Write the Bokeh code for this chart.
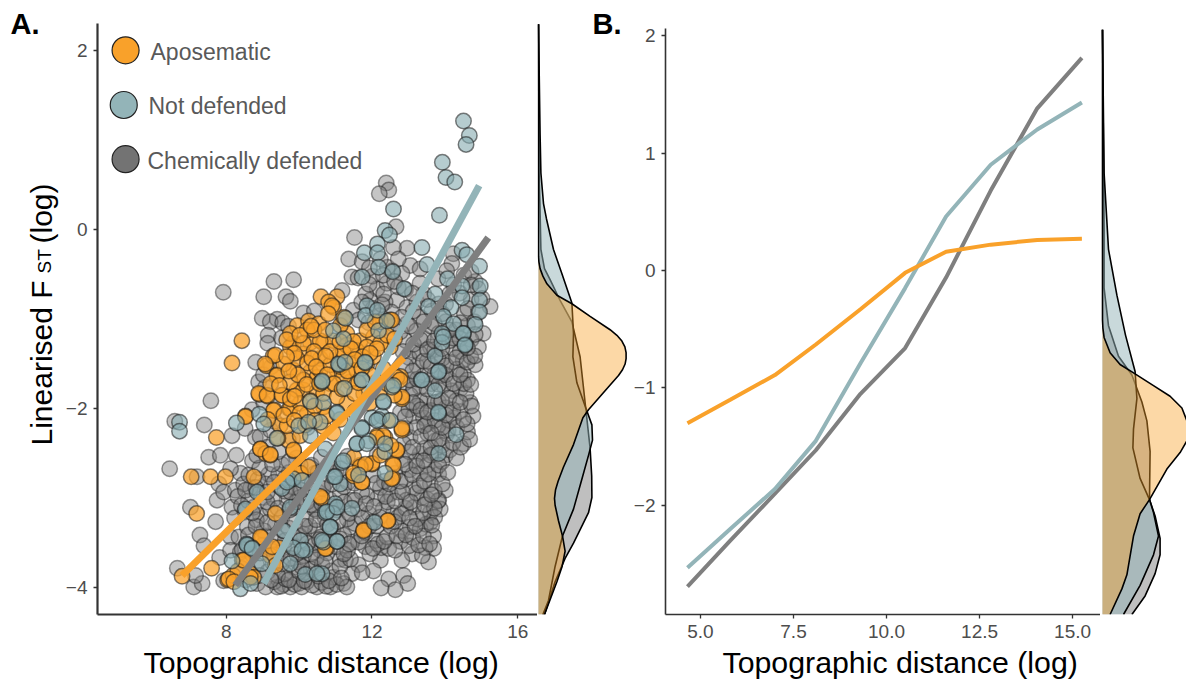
from bokeh.plotting import figure
from bokeh.layouts import row, column
from bokeh.models import FixedTicker, Label, Range1d
from bokeh.embed import file_html
from bokeh.resources import INLINE

ORANGE = "#F9A12A"; TEAL = "#93B4B8"; GRAY = "#7F7F7F"
TEAL_POINT = "#85AAAF"
FONT = "Liberation Sans"

series_names = ["Aposematic", "Not defended", "Chemically defended"]

# ---------- panel A: points (log distance, linearised FST)
gray_pts = [
(7.92,-.70),(9.31,-.58),(9.85,-.56),(9.03,-.75),(9.64,-.75),(9.76,-.80),(8.99,-.99),(9.40,-1.0),(9.21,-1.03),(9.55,-1.04),
(9.15,-1.18),(9.14,-1.27),(8.81,-1.48),(8.89,-1.70),(9.08,-1.76),(7.58,-1.91),(6.59,-2.14),(7.40,-2.18),(8.16,-2.30),(8.80,-2.32),
(12.39,.52),(12.46,.44),(12.2,.40),(12.66,.03),(11.52,-.09),(11.36,-.33),(12.96,-.21),(12.59,-.20),(11.45,-.53),(11.73,-.36),
(11.62,-.54),(13.05,-.40),(13.32,-.44),(13.81,-.55),(13.32,-.60),(15.24,-.86),(15.05,-1.16),(14.23,-.27),(14.19,-.38),(14.05,-.46),
(11.18,-.68),(12.55,-.46),(12.14,-.66),(12.41,-.60),(12.68,-.79),(12.96,-.87),(11.95,-.79),(12.36,-.81),(12.32,-.72),(13.23,-.81),
(13.32,-.98),(12.96,-1.05),(11.49,-.90),(12.72,-.64),(14.83,-1.51),(14.51,-1.61),(14.42,-1.78),(14.69,-1.93),(14.77,-2.08),(14.51,-2.39),
(14.24,-2.10),(13.51,-1.91),(13.23,-1.52),(13.32,-1.76),(13.05,-1.85),(12.78,-2.04),(13.32,-1.91),(13.14,-2.08),(13.41,-2.10),(13.05,-2.32),
(13.73,-2.36),(14.05,-2.28),(14.09,-2.24),(14.19,-1.80),(14.19,-1.48),(13.6,-1.31),(13.13,-1.35),(14.23,-1.33),(13.96,-1.74),(14.5,-1.46),
(13.51,-2.17),(13.69,-2.50),(14.01,-2.52),(13.32,-2.50),(12.86,-2.39),(13.19,-2.58),(13.83,-2.73),(14.01,-2.91),(13.83,-3.02),(13.60,-3.27),
(13.69,-3.42),(13.69,-3.56),(13.55,-3.71),(13.14,-3.10),(12.50,-2.95),(11.91,-3.17),(12.14,-3.0),(12.78,-3.48),(12.23,-3.69),(12.25,-3.55),
(13.05,-3.32),(13.1,-3.62),(12.82,-3.69),(12.46,-3.9),(12.87,-3.86),(12.98,-3.95),(12.64,-4.02),(12.25,-4.0),(12.04,-3.81),(11.63,-3.74),
(11.45,-3.84),(11.22,-3.95),(10.86,-3.99),(11.82,-3.54),(11.45,-3.49),(11.41,-3.32),(11.86,-2.97),(13.37,-2.99),(13.6,-2.84),(13.14,-2.89),
(12.59,-3.16),(13.46,-3.55),(13.32,-3.34),(13.6,-3.16),(13.87,-3.12),(12.46,-3.56),(11.13,-3.68),(10.94,-3.88),(11.27,-3.69),(12.09,-3.47),
(6.45,-2.67),(7.52,-2.54),(8.28,-2.52),(7.84,-2.52),(7.2,-2.76),(7.02,-3.10),(7.71,-3.26),(7.28,-3.41),(7.39,-3.53),(6.66,-3.78),
(7.11,-3.99),(7.34,-3.95),(7.16,-3.86),(7.82,-3.66),(7.93,-3.92),(8.39,-2.72),(8.12,-2.67),(7.8,-2.84),(7.75,-3.02),(8.16,-3.10),
(7.93,-2.93),(8.25,-2.91),(8.12,-3.43),(8.35,-3.43),(8.58,-3.32),(8.94,-3.19),(9.03,-2.99),(9.17,-2.73),(8.67,-2.88),(8.48,-2.84),
(9.08,-3.42),(9.35,-3.29),(9.67,-3.02),(9.44,-2.73),(9.85,-2.88),(10.04,-3.10),(10.31,-2.91),(10.49,-3.14),(10.13,-3.40),(10.45,-3.36),
(9.58,-3.96),(9.40,-3.99),(9.76,-3.99),(9.99,-3.95),(10.49,-3.99),(8.67,-3.84),(8.12,-3.58),(8.39,-3.60),(8.85,-3.95),(9.08,-3.99),
(10.22,-3.84),(10.4,-3.77),(9.85,-3.77),(10.58,-3.58),(10.31,-3.62),(9.85,-3.43),(9.58,-3.55),(8.76,-3.10),(9.08,-2.84),
(9.32,-3.93),(9.51,-3.98),(9.63,-3.90),(9.88,-3.96),(10.07,-3.99),(10.21,-3.93),(10.36,-3.97),(10.62,-3.94),(10.74,-3.98),(11.03,-3.96),(11.31,-3.99),
(8.42,-3.78),(8.83,-3.74),(9.14,-3.82),(9.28,-3.72),(9.61,-3.84),(9.97,-3.71),(10.33,-3.79),(10.63,-3.74),(10.88,-3.81),(11.12,-3.76),(11.41,-3.68),(11.73,-3.83),
(8.44,-3.57),(8.72,-3.63),(9.01,-3.52),(9.49,-3.61),(9.83,-3.53),(10.12,-3.64),(10.43,-3.52),(10.77,-3.61),(11.02,-3.54),(11.33,-3.58),(11.63,-3.49),(11.94,-3.62),(12.16,-3.51),(12.63,-3.58),(13.02,-3.53),(13.38,-3.64),
(8.61,-3.41),(9.03,-3.36),(9.42,-3.44),(9.71,-3.33),(10.02,-3.42),(10.29,-3.31),(10.61,-3.43),(10.93,-3.34),(11.22,-3.41),(11.53,-3.28),(11.81,-3.38),(12.13,-3.31),(12.41,-3.43),(12.83,-3.36),(13.12,-3.44),(13.48,-3.29),(13.72,-3.21),
(8.23,-3.22),(8.51,-3.14),(8.83,-3.24),(9.21,-3.12),(9.53,-3.21),(9.82,-3.11),(10.18,-3.23),(10.42,-3.12),(10.71,-3.21),(11.04,-3.13),(11.32,-3.23),(11.62,-3.12),(12.02,-3.26),(12.31,-3.12),(12.71,-3.21),(12.92,-3.11),(13.24,-3.23),(13.81,-3.03),
(8.32,-2.98),(8.61,-3.03),(8.92,-2.94),(9.31,-3.01),(9.61,-2.92),(10.02,-2.99),(10.22,-3.04),(10.53,-2.93),(10.83,-3.01),(11.13,-2.94),(11.44,-3.02),(11.72,-2.93),(12.23,-2.88),(12.42,-3.04),(12.71,-2.93),(12.94,-3.02),(13.22,-2.94),(13.52,-3.01),(13.71,-2.92),
(8.62,-2.74),(8.87,-2.79),(9.32,-2.82),(9.73,-2.71),(10.13,-2.81),(10.44,-2.72),(10.72,-2.83),(11.02,-2.71),(11.34,-2.82),(12.03,-2.74),(12.34,-2.81),(12.63,-2.72),(12.92,-2.79),(13.03,-2.68),(13.32,-2.72),(13.51,-2.63),(13.73,-2.68),(13.92,-2.59),
(8.72,-2.58),(9.52,-2.62),(9.93,-2.55),(10.34,-2.63),(10.61,-2.54),(10.92,-2.62),(11.33,-2.53),(12.14,-2.51),(12.83,-2.57),(13.02,-2.48),(13.44,-2.44),(13.61,-2.52),(13.92,-2.41),(14.13,-2.46),(14.32,-2.55),
(8.52,-2.22),(8.93,-2.31),(9.22,-2.24),(9.82,-2.33),(10.23,-2.21),(12.92,-2.22),(13.22,-2.21),(13.53,-2.28),(13.81,-2.19),(14.12,-2.13),(14.33,-2.21),(14.62,-2.26),(14.42,-2.03),
(8.71,-2.01),(9.03,-1.93),(9.33,-2.14),(13.01,-2.01),(13.23,-1.97),(13.62,-2.02),(13.82,-1.92),(14.03,-1.99),(14.31,-1.91),(14.58,-1.83),
(9.02,-1.62),(9.24,-1.53),(9.52,-1.21),(9.71,-1.08),(12.91,-1.71),(13.14,-1.78),(13.42,-1.63),(13.63,-1.72),(13.91,-1.63),(14.12,-1.67),(14.33,-1.56),(14.62,-1.68),(14.71,-1.42),
(10.12,-.93),(10.42,-.91),(11.21,-1.02),(13.02,-1.43),(13.31,-1.38),(13.52,-1.47),(13.72,-1.34),(13.93,-1.44),(14.13,-1.24),(14.42,-1.36),(14.72,-1.23),(14.92,-1.31),(14.62,-1.07),
(12.93,-1.24),(13.22,-1.13),(13.41,-1.21),(13.62,-1.08),(13.83,-1.16),(14.02,-1.03),(14.31,-1.12),(14.53,-.93),(14.81,-1.03),(14.72,-.78),(14.41,-.71),
(14.02,-.83),(13.64,-.91),(13.42,-.72),(12.53,-.92),(12.22,-.96),(12.78,-1.14),(14.24,-.62),(14.83,-.58),(12.01,-.52),(11.83,-.72),
]

gray_pts_dense = [
(9.41,-3.86),(9.72,-3.91),(10.01,-3.82),(10.14,-3.92),(10.53,-3.87),(10.82,-3.92),(11.16,-3.89),(9.23,-3.91),(8.92,-3.86),(8.53,-3.91),(9.52,-3.73),(9.77,-3.67),(10.07,-3.76),(10.47,-3.66),(10.71,-3.7),(11.23,-3.62),(8.93,-3.61),(8.61,-3.52),(9.18,-3.55),(9.32,-3.63),
(9.62,-3.47),(9.93,-3.62),(10.23,-3.5),(10.56,-3.46),(10.84,-3.48),(11.12,-3.45),(11.37,-3.51),(11.72,-3.42),(12.03,-3.56),(12.33,-3.48),(12.52,-3.31),(12.68,-3.42),(12.93,-3.41),(13.28,-3.52),(13.41,-3.42),(13.58,-3.51),(13.64,-3.3),
(8.82,-3.31),(9.13,-3.27),(9.56,-3.36),(9.88,-3.27),(10.16,-3.31),(10.47,-3.24),(10.78,-3.29),(11.07,-3.26),(11.38,-3.17),(11.73,-3.22),(11.93,-3.31),(12.22,-3.21),(12.61,-3.26),(12.81,-3.17),(13.03,-3.22),(13.18,-3.31),(13.41,-3.16),(13.71,-3.11),
(8.42,-3.08),(8.72,-3.16),(9.12,-3.04),(9.42,-3.11),(9.74,-3.13),(9.93,-3.04),(10.33,-3.07),(10.62,-3.06),(10.93,-3.09),(11.24,-3.04),(11.53,-3.02),(11.83,-3.06),(12.06,-3.09),(12.37,-2.98),(12.63,-3.03),(12.84,-2.93),(13.06,-3.04),(13.31,-2.86),(13.44,-3.07),(13.63,-2.96),(13.93,-2.84),
(8.53,-2.91),(8.81,-2.88),(9.13,-2.93),(9.47,-2.87),(9.76,-2.93),(10.06,-2.91),(10.36,-2.83),(10.66,-2.89),(10.91,-2.84),(11.23,-2.87),(11.52,-2.83),(12.12,-2.83),(12.48,-2.84),(12.77,-2.81),(13.11,-2.74),(13.43,-2.81),(13.54,-2.73),(13.83,-2.63),(14.08,-2.71),
(8.92,-2.66),(9.27,-2.62),(9.62,-2.77),(10.03,-2.63),(10.52,-2.71),(10.82,-2.64),(11.14,-2.67),(12.91,-2.62),(13.23,-2.64),(13.42,-2.58),(13.62,-2.43),(13.84,-2.34),(14.22,-2.38),(14.43,-2.43),(14.61,-2.17),(14.68,-2.34),
(8.84,-2.52),(9.13,-2.43),(9.43,-2.48),(9.72,-2.59),(13.12,-2.43),(13.34,-2.31),(13.44,-2.19),(13.73,-2.13),(13.93,-2.21),(13.62,-2.27),(14.03,-2.07),(14.22,-2.01),(14.51,-2.12),(14.73,-1.97),
(12.91,-2.09),(13.12,-1.93),(13.34,-2.01),(13.52,-2.04),(13.72,-1.93),(13.91,-1.91),(14.11,-1.88),(14.42,-1.93),(14.52,-1.72),(14.71,-1.73),(13.03,-1.68),(13.24,-1.67),(13.51,-1.78),(13.72,-1.62),(13.83,-1.73),(14.02,-1.62),(14.24,-1.72),(14.42,-1.62),
(12.93,-1.52),(13.12,-1.58),(13.41,-1.47),(13.62,-1.52),(13.81,-1.43),(14.03,-1.52),(14.31,-1.43),(14.61,-1.48),(14.82,-1.41),(12.85,-1.36),(13.14,-1.28),(13.33,-1.23),(13.52,-1.34),(13.71,-1.24),(13.92,-1.33),(14.22,-1.21),(14.41,-1.22),(14.62,-1.32),(14.83,-1.17),
(13.05,-1.08),(13.42,-1.03),(13.71,-1.05),(13.93,-.94),(14.12,-1.12),(14.42,-1.04),(14.63,-.88),(14.92,-.92),(13.13,-.91),(13.52,-.78),(13.83,-.83),(14.13,-.72),(14.52,-.51),(14.72,-.47),(14.91,-.66),(15.02,-.77),
(12.42,-.42),(12.23,-.33),(12.72,-.33),(12.82,-.49),(12.92,-.67),(13.11,-.71),(11.93,-.43),(11.92,-.61),(12.31,-.51),(12.62,-.58),(12.27,-.84),(12.03,-.88),(11.72,-.81),(11.63,-1.01),(11.91,-1.04),(12.23,-1.12),(12.82,-.98),(12.63,-1.07),(14.72,-.62),
]

orange_pts = [
(8.43,-1.24),(8.16,-1.49),(7.73,-2.32),(8.91,-1.84),(9.10,-1.52),(9.29,-1.41),(9.40,-1.62),(9.14,-1.86),(9.55,-1.85),(9.32,-2.01),
(9.73,-2.0),(8.53,-2.08),(9.95,-1.07),(10.26,-1.02),(10.54,-1.05),(10.6,-.75),(11.04,-.75),(10.81,-.81),(10.95,-.87),(10.9,-.85),
(10.8,-.94),(12.5,-1.01),(12.23,-1.03),(12.82,-2.24),(12.82,-1.89),(12.78,-1.64),(12.68,-2.47),(12.36,-2.32),(12.14,-2.30),(12.0,-2.62),
(12.57,-2.61),(11.68,-2.63),(11.5,-2.54),(11.77,-3.35),(12.44,-3.25),(10.75,-3.56),(11.73,-2.82),(11.5,-2.75),(12.57,-2.77),(10.63,-3.0),
(7.04,-2.76),(7.57,-2.76),(7.98,-2.76),(8.76,-2.76),(7.19,-3.17),(6.79,-3.87),(7.6,-3.78),(8.04,-3.91),(8.19,-3.86),(8.44,-3.69),
(8.32,-3.81),(8.94,-2.45),(9.08,-2.50),(9.21,-2.52),(9.35,-3.17),(8.97,-3.44),(9.21,-3.64),(8.67,-3.84),(8.75,-3.88),(9.44,-3.55),
(9.35,-3.75),(9.85,-2.47),(10.04,-2.72),(9.70,-2.35),
(9.85,-1.27),(10.31,-1.26),(9.76,-1.31),(10.12,-1.39),(10.67,-1.27),(10.94,-1.24),(11.31,-1.16),(11.68,-1.24),(12.04,-1.2),(12.54,-1.01),
(9.85,-1.57),(10.31,-1.59),(10.58,-1.44),(11.04,-1.42),(11.4,-1.46),(11.86,-1.5),(12.5,-1.31),(12.68,-1.65),(12.77,-1.68),(12.82,-1.87),
(9.94,-1.44),(9.58,-1.5),(9.35,-1.40),(9.07,-1.5),(9.39,-1.63),(8.89,-1.83),(9.12,-1.85),(9.53,-1.85),(10.12,-1.79),(10.49,-1.81),
(9.94,-1.79),(9.76,-2.0),(9.3,-2.02),(10.03,-1.94),(10.67,-1.98),(11.31,-1.94),(9.48,-2.19),(9.67,-2.19),(10.03,-2.3),(9.85,-2.46),
(8.94,-2.45),(9.21,-2.51),(8.53,-2.09),(11.4,-1.7),(11.77,-1.83),(10.85,-1.72),(10.49,-1.65),(10.12,-1.68),(9.76,-1.7),(11.04,-1.57),
(11.58,-1.35),(12.04,-1.42),(11.31,-1.29),(10.58,-1.24),(10.22,-1.12),(9.76,-1.16),(12.82,-2.22),(12.31,-2.3),(12.13,-2.32),(12.68,-2.46),
(12.59,-2.63),(12.54,-2.78),(12.0,-2.61),(11.68,-2.65),(11.49,-2.72),(11.72,-2.82),(10.58,-2.98),(8.94,-3.43),(9.26,-3.54),(8.48,-3.69),
(8.07,-3.9),(8.21,-3.93),(8.66,-3.88),(10.72,-3.56),(11.77,-3.36),(12.43,-3.25),(10.03,-2.72),(10.26,-2.65),(10.67,-2.2),
(10.12,-1.27),(10.41,-1.36),(9.87,-1.38),(10.23,-1.49),(10.58,-1.57),(10.86,-1.51),(11.21,-1.36),(11.49,-1.25),(11.86,-1.31),(12.23,-1.27),
(11.22,-1.64),(10.67,-1.83),(10.31,-1.91),(11.04,-1.87),(9.76,-1.89),(10.22,-2.06),(10.85,-1.36),(10.41,-1.12),(11.13,-1.07),(11.86,-1.12),
(12.31,-1.55),(12.13,-1.7),(11.95,-1.62),(11.58,-1.57),(10.76,-2.08),(11.13,-2.12),(10.94,-2.27),
(9.66,-1.23),(10.02,-1.18),(10.35,-1.44),(10.73,-1.41),(11.12,-1.25),(11.42,-1.33),(11.74,-1.42),(12.13,-1.33),(12.42,-1.18),(12.62,-1.22),
(9.66,-1.42),(9.97,-1.62),(10.21,-1.73),(10.47,-1.53),(10.77,-1.62),(11.13,-1.53),(11.33,-1.58),(11.53,-1.45),(11.72,-1.55),(11.95,-1.38),
(9.22,-1.72),(9.46,-1.74),(9.72,-1.58),(9.88,-1.86),(10.03,-2.05),(10.42,-1.97),(10.56,-1.72),(10.96,-1.72),(11.18,-1.78),(11.52,-1.83),(11.63,-1.71),(12.22,-1.82),(12.42,-1.72),(12.61,-1.85),
(9.14,-2.12),(9.42,-2.33),(9.58,-2.07),(9.87,-2.13),(10.17,-2.18),(10.43,-2.13),(11.53,-2.03),(11.93,-1.94),(12.52,-2.41),(12.23,-2.52),(12.44,-2.13),(11.82,-2.62),(10.33,-1.08),(10.72,-1.12),(11.23,-.98),(12.08,-1.03),
]

teal_pts = [
(14.51,1.21),(14.67,1.05),(14.58,.95),(13.93,.75),(14.03,.58),(14.27,.53),(12.59,.23),(13.85,.16),(12.36,-.01),(12.48,-.06),
(12.15,-.16),(11.79,-.26),(12.15,-.26),(12.18,-.42),(13.37,-.20),(13.51,-.39),(12.57,-.47),(11.73,-.53),(12.88,-.66),(14.47,-.23),
(14.6,-.28),(14.95,-.41),(14.07,-.55),(14.47,-.63),(14.97,-.63),(13.73,-.72),(14.95,-.79),(14.47,-.76),(11.86,-.85),(11.82,-.96),
(12.15,-.90),(14.17,-.87),(13.55,-.86),(13.96,-.97),(14.95,-.92),(14.83,-1.06),(14.24,-1.05),(13.92,-1.16),(14.51,-1.16),(10.94,-1.13),
(11.27,-.99),(11.22,-1.22),(12.18,-1.13),(12.41,-1.02),(11.10,-1.51),(11.82,-1.49),(11.73,-1.68),(11.24,-1.77),(10.63,-1.70),(12.55,-1.76),
(12.32,-1.93),(12.0,-2.10),(12.27,-2.08),(12.18,-2.12),(11.73,-2.21),(11.59,-2.39),(11.91,-2.36),(11.04,-2.04),(10.67,-1.93),(10.72,-2.45),
(11.18,-2.60),(12.35,-2.48),(13.35,-1.68),(13.73,-1.80),(13.84,-1.58),(13.73,-1.41),(13.92,-1.26),(14.56,-1.28),(13.83,-2.05),(14.31,-2.29),
(13.83,-2.5),(12.07,-3.27),(11.04,-3.48),(11.45,-3.11),(10.99,-3.06),(10.72,-3.16),(10.93,-3.17),(10.86,-3.32),(10.67,-3.49),(10.63,-3.84),
(11.13,-2.84),(10.95,-2.76),(12.36,-2.72),(6.72,-2.15),(6.72,-2.25),(8.28,-2.16),(8.91,-2.06),(9.03,-2.17),(8.85,-2.93),(8.53,-3.12),
(9.72,-2.80),(9.53,-2.89),(8.16,-3.70),(8.56,-3.51),(8.71,-3.55),(8.39,-4.01),(8.67,-3.95),(10.17,-3.85),(10.49,-3.84),(10.04,-3.47),
(10.17,-3.58),(9.84,-3.55),(9.84,-2.78),(11.08,-1.5),(11.26,-1.48),(10.63,-1.69),(11.72,-1.68),(11.81,-1.48),(10.31,-1.92),(10.58,-2.15),
(11.04,-2.05),(9.39,-2.33),(9.99,-2.19),(10.26,-2.15),(10.31,-2.3),(11.22,-2.58),(10.99,-2.76),(9.67,-2.82),(10.08,-2.8),(9.76,-3.1),
(10.76,-3.15),(11.04,-3.1),(10.85,-3.32),(10.63,-3.47),(11.04,-3.48),(12.36,-2.39),(11.63,-2.74),(11.58,-2.39),(11.86,-2.39),(11.72,-2.22),
(12.31,-1.92),(12.13,-2.13),(12.5,-2.13),(12.59,-1.74),(13.37,-1.68),(13.82,-1.59),(13.82,-2.04),(13.96,-1.2),(14.5,-1.16),(14.55,-1.29),
(8.57,-3.52),(8.71,-3.56),(10.08,-3.58),(9.76,-3.73),(8.98,-3.73),(9.58,-3.36),
]

# fitted lines of panel A: x, y at the two ends
fit_a_orange_x = [6.79, 12.87]; fit_a_orange_y = [-3.86, -1.43]
fit_a_teal_x = [9.03, 14.94];   fit_a_teal_y = [-3.95, 0.49]
fit_a_gray_x = [8.25, 15.19];   fit_a_gray_y = [-3.97, -0.09]

# ---------- panel A marginal densities
dens_a_orange_y = [2.29,-.30,-.36,-.436,-.52,-.606,-.734,-.828,-.969,-1.118,-1.18,-1.245,-1.31,-1.373,-1.44,-1.501,-1.565,-1.629,-1.799,-2.012,-2.1,-2.4,-2.65,-2.81,-2.907,-3.0,-3.077,-3.25,-3.42,-3.59,-3.76,-3.93,-4.296]
dens_a_orange_d = [0,0,.002,.008,.022,.042,.092,.167,.258,.358,.392,.417,.432,.438,.438,.433,.42,.40,.333,.25,.222,.175,.125,.098,.085,.08,.083,.10,.12,.133,.118,.092,.03]
dens_a_teal_y = [2.29,1.055,.63,.29,.118,-.223,-.5,-.82,-1.16,-1.42,-1.71,-1.97,-2.18,-2.35,-2.52,-2.8,-3.12,-3.42,-3.76,-4.14,-4.296]
dens_a_teal_d = [0,.008,.012,.025,.04,.075,.118,.167,.175,.172,.192,.233,.267,.27,.25,.215,.175,.12,.083,.05,.022]
dens_a_gray_y = [2.29,.63,.29,-.223,-.436,-.56,-.8,-1.03,-1.42,-1.93,-2.44,-2.75,-2.99,-3.16,-3.5,-3.67,-3.93,-4.296]
dens_a_gray_d = [0,.003,.007,.012,.03,.058,.11,.167,.208,.233,.258,.266,.267,.25,.175,.133,.083,.03]

# ---------- panel B lines
line_x = [4.65, 5.8, 7.0, 8.1, 9.3, 10.5, 11.6, 12.8, 14.05, 15.25]
line_b_orange = [-1.30, -1.10, -.89, -.63, -.33, -.02, .16, .22, .26, .27]
line_b_teal = [-2.53, -2.20, -1.86, -1.45, -.79, -.15, .46, .90, 1.20, 1.43]
line_b_gray = [-2.69, -2.30, -1.90, -1.53, -1.05, -.66, -.06, .68, 1.38, 1.81]

# ---------- panel B marginal densities
dens_b_orange_y = [2.05,-.42,-.49,-.57,-.70,-.80,-.88,-.98,-1.07,-1.17,-1.28,-1.36,-1.45,-1.55,-1.69,-1.95,-2.07,-2.26,-2.59,-2.71,-2.928]
dens_b_orange_d = [0,0,.002,.008,.038,.088,.163,.255,.338,.397,.422,.43,.422,.388,.322,.235,.188,.155,.122,.097,.038]
dens_b_teal_y = [2.05,.83,.18,-.21,-.55,-.86,-1.09,-1.35,-1.51,-1.77,-1.95,-2.06,-2.26,-2.42,-2.68,-2.928]
dens_b_teal_d = [0,.008,.03,.072,.115,.163,.172,.155,.152,.188,.235,.255,.28,.255,.188,.105]
dens_b_gray_y = [2.05,.34,-.15,-.47,-.73,-.89,-1.12,-1.28,-1.54,-1.95,-2.09,-2.28,-2.42,-2.58,-2.77,-2.928]
dens_b_gray_d = [0,.008,.008,.03,.08,.147,.197,.222,.238,.235,.263,.288,.288,.263,.213,.147]

# ---------- axis ticks
a_xticks = [8, 12, 16]; a_yticks = [-4, -2, 0, 2]
b_xticks = [5, 7.5, 10, 12.5, 15]; b_yticks = [-2, -1, 0, 1, 2]
a_xlabels = {8: "8", 12: "12", 16: "16"}
a_ylabels = {-4: "\u22124", -2: "\u22122", 0: "0", 2: "2"}
b_xlabels = {5: "5.0", 7.5: "7.5", 10: "10.0", 12.5: "12.5", 15: "15.0"}
b_ylabels = {-2: "\u22122", -1: "\u22121", 0: "0", 1: "1", 2: "2"}

H = 646         # height of the row of panels
BOTTOM = 614    # page row of the bottom of every frame
x_title = "Topographic distance (log)"


def style(p, xt, yt, xl, yl, lw, ybounds):
    for ax, t, lab in ((p.xaxis[0], xt, xl), (p.yaxis[0], yt, yl)):
        ax.ticker = FixedTicker(ticks=t)
        ax.major_label_overrides = lab
        ax.major_tick_in = 0
        ax.major_tick_out = 4
        ax.minor_tick_in = 0
        ax.minor_tick_out = 0
        ax.axis_line_color = "#333333"
        ax.axis_line_width = lw
        ax.major_tick_line_color = "#333333"
        ax.major_tick_line_width = 1.3
        ax.major_label_text_color = "#4D4D4D"
        ax.major_label_text_font = FONT
        ax.major_label_text_font_size = "19px"
        ax.major_label_standoff = 6
    p.yaxis[0].bounds = ybounds
    plain(p)


def plain(p):
    p.grid.visible = False
    p.outline_line_color = None
    p.background_fill_color = None
    p.border_fill_color = None


def txt(p, frame_left, frame_bottom, s, px, py, size, color="#000000", style_="normal", angle=0.0):
    # positions given in page pixels; Label's screen units count from the frame's lower left
    p.add_layout(Label(x=px - frame_left, y=frame_bottom - py, x_units="screen", y_units="screen", text=s,
                       text_font=FONT, text_font_size=size, text_color=color, text_font_style=style_,
                       angle=angle, text_align="left", text_baseline="alphabetic"))


def marginal(width, yr, xr, layers):
    m = figure(width=width, height=H, output_backend="svg", toolbar_location=None,
               x_range=Range1d(*xr), y_range=yr, min_border_left=0, min_border_right=0,
               min_border_top=0, min_border_bottom=H - BOTTOM, tools="")
    m.axis.visible = False
    plain(m)
    for ys, ds, c, a in layers:
        m.harea(x1=[0] * len(ds), x2=ds, y=ys, fill_color=c, fill_alpha=a)
        m.line(ds, ys, line_color="#000000", line_width=1.6)
    return m


# ---------- strip left of panel A: panel letter and the y title
strip = figure(width=60, height=H, output_backend="svg", toolbar_location=None, x_range=Range1d(0, 1),
               y_range=Range1d(0, 1), min_border_left=0, min_border_right=0, min_border_top=0,
               min_border_bottom=H - BOTTOM, tools="")
strip.axis.visible = False
plain(strip)
txt(strip, 0, BOTTOM, "A.", 10, 23, "29px", style_="bold")
txt(strip, 0, BOTTOM, "Linearised F", 41, 445, "30px", angle=1.5708)
txt(strip, 0, BOTTOM, "ST", 44, 273, "19px", angle=1.5708)
txt(strip, 0, BOTTOM, "(log)", 41, 243, "30px", angle=1.5708)

# ---------- panel A
ya = Range1d(-4.296, 2.556)
pa = figure(width=477, height=H, output_backend="svg", toolbar_location=None,
            x_range=Range1d(4.47, 16.54), y_range=ya, min_border_left=37, min_border_right=0,
            min_border_top=0, min_border_bottom=H - BOTTOM, tools="")
style(pa, a_xticks, a_yticks, a_xlabels, a_ylabels, 2.2, (-4.296, 2.299))
for pts, col, fa, la in ((gray_pts + gray_pts_dense, GRAY, .45, .45), (orange_pts, ORANGE, .72, .55), (teal_pts, TEAL_POINT, .6, .55)):
    pa.scatter([q[0] for q in pts], [q[1] for q in pts], size=15.5, fill_color=col, fill_alpha=fa,
               line_color="#1a1a1a", line_alpha=la, line_width=1.5)
pa.line(fit_a_gray_x, fit_a_gray_y, line_color=GRAY, line_width=7, line_cap="butt")
pa.line(fit_a_teal_x, fit_a_teal_y, line_color=TEAL, line_width=7, line_cap="butt")
pa.line(fit_a_orange_x, fit_a_orange_y, line_color=ORANGE, line_width=7, line_cap="butt")

for name, col, lx, ly, tx, base in zip(series_names, (ORANGE, TEAL, "#737373"),
                                       (5.24, 5.19, 5.24), (2.0, 1.39, .785),
                                       (150, 148, 147), (51, 105, 160)):
    pa.scatter([lx], [ly], size=27, fill_color=col, line_color="#222222", line_width=1.2)
    txt(pa, 97, BOTTOM, name, tx, base, "23px", "#595959")

ma = marginal(93, ya, (-.005, .46),
              [(dens_a_gray_y, dens_a_gray_d, GRAY, .5),
               (dens_a_teal_y, dens_a_teal_d, TEAL, .5),
               (dens_a_orange_y, dens_a_orange_d, ORANGE, .42)])
txt(ma, 537, BOTTOM, "B.", 592, 23, "29px", style_="bold")

# ---------- panel B
yb = Range1d(-2.928, 2.298)
pb = figure(width=470, height=H, output_backend="svg", toolbar_location=None,
            x_range=Range1d(4.06, 15.75), y_range=yb, min_border_left=35, min_border_right=0,
            min_border_top=0, min_border_bottom=H - BOTTOM, tools="")
style(pb, b_xticks, b_yticks, b_xlabels, b_ylabels, 1.6, (-2.928, 2.06))
pb.line(line_x, line_b_gray, line_color=GRAY, line_width=4)
pb.line(line_x, line_b_teal, line_color=TEAL, line_width=4)
pb.line(line_x, line_b_orange, line_color=ORANGE, line_width=4)

mb = marginal(86, yb, (-.01, .42),
              [(dens_b_gray_y, dens_b_gray_d, GRAY, .5),
               (dens_b_teal_y, dens_b_teal_d, TEAL, .5),
               (dens_b_orange_y, dens_b_orange_d, ORANGE, .42)])

# ---------- strip under the panels: the x titles
below = figure(width=1186, height=33, output_backend="svg", toolbar_location=None, x_range=Range1d(0, 1),
               y_range=Range1d(0, 1), min_border_left=0, min_border_right=0, min_border_top=0,
               min_border_bottom=0, tools="")
below.axis.visible = False
plain(below)
txt(below, 0, 679, x_title, 143, 662, "30.3px")
txt(below, 0, 679, x_title, 722, 662, "30.3px")

layout = column(row(strip, pa, ma, pb, mb, spacing=0), below, spacing=0)
open("out.html", "w").write(file_html(layout, INLINE))
